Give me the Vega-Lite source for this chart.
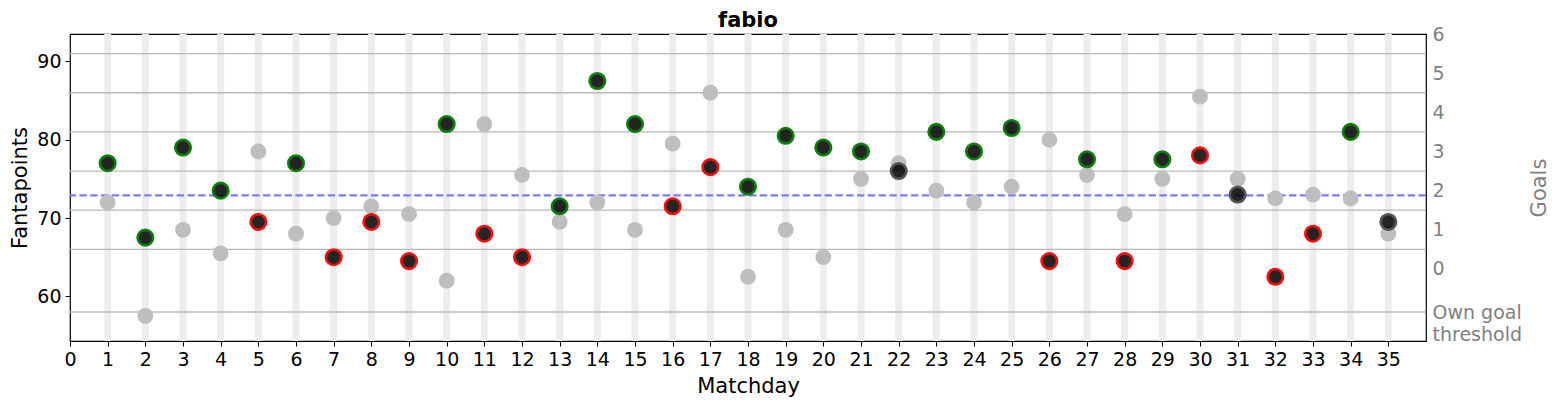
{
  "$schema": "https://vega.github.io/schema/vega-lite/v6.json",
  "width": 1356,
  "height": 307,
  "autosize": "none",
  "padding": {"left": 70, "top": 34, "right": 132, "bottom": 65},
  "background": "white",
  "config": {
    "font": "DejaVu Sans",
    "view": {"stroke": "black", "strokeWidth": 1.2},
    "axis": {"grid": false, "domain": false, "tickColor": "black", "tickSize": 5, "labelColor": "black", "labelFontSize": 19, "titleFontSize": 21, "titleFontWeight": "normal", "labelFont": "DejaVu Sans", "titleFont": "DejaVu Sans", "labelOverlap": false}
  },
  "title": {"text": "fabio", "fontSize": 21, "fontWeight": "bold", "font": "DejaVu Sans", "anchor": "middle", "offset": 6, "dy": 12},
  "datasets": {
    "games": [
      {"matchday": 1, "fantapoints": 77.0, "opponent": 72.0, "result": "W"},
      {"matchday": 2, "fantapoints": 67.5, "opponent": 57.5, "result": "W"},
      {"matchday": 3, "fantapoints": 79.0, "opponent": 68.5, "result": "W"},
      {"matchday": 4, "fantapoints": 73.5, "opponent": 65.5, "result": "W"},
      {"matchday": 5, "fantapoints": 69.5, "opponent": 78.5, "result": "L"},
      {"matchday": 6, "fantapoints": 77.0, "opponent": 68.0, "result": "W"},
      {"matchday": 7, "fantapoints": 65.0, "opponent": 70.0, "result": "L"},
      {"matchday": 8, "fantapoints": 69.5, "opponent": 71.5, "result": "L"},
      {"matchday": 9, "fantapoints": 64.5, "opponent": 70.5, "result": "L"},
      {"matchday": 10, "fantapoints": 82.0, "opponent": 62.0, "result": "W"},
      {"matchday": 11, "fantapoints": 68.0, "opponent": 82.0, "result": "L"},
      {"matchday": 12, "fantapoints": 65.0, "opponent": 75.5, "result": "L"},
      {"matchday": 13, "fantapoints": 71.5, "opponent": 69.5, "result": "W"},
      {"matchday": 14, "fantapoints": 87.5, "opponent": 72.0, "result": "W"},
      {"matchday": 15, "fantapoints": 82.0, "opponent": 68.5, "result": "W"},
      {"matchday": 16, "fantapoints": 71.5, "opponent": 79.5, "result": "L"},
      {"matchday": 17, "fantapoints": 76.5, "opponent": 86.0, "result": "L"},
      {"matchday": 18, "fantapoints": 74.0, "opponent": 62.5, "result": "W"},
      {"matchday": 19, "fantapoints": 80.5, "opponent": 68.5, "result": "W"},
      {"matchday": 20, "fantapoints": 79.0, "opponent": 65.0, "result": "W"},
      {"matchday": 21, "fantapoints": 78.5, "opponent": 75.0, "result": "W"},
      {"matchday": 22, "fantapoints": 76.0, "opponent": 77.0, "result": "D"},
      {"matchday": 23, "fantapoints": 81.0, "opponent": 73.5, "result": "W"},
      {"matchday": 24, "fantapoints": 78.5, "opponent": 72.0, "result": "W"},
      {"matchday": 25, "fantapoints": 81.5, "opponent": 74.0, "result": "W"},
      {"matchday": 26, "fantapoints": 64.5, "opponent": 80.0, "result": "L"},
      {"matchday": 27, "fantapoints": 77.5, "opponent": 75.5, "result": "W"},
      {"matchday": 28, "fantapoints": 64.5, "opponent": 70.5, "result": "L"},
      {"matchday": 29, "fantapoints": 77.5, "opponent": 75.0, "result": "W"},
      {"matchday": 30, "fantapoints": 78.0, "opponent": 85.5, "result": "L"},
      {"matchday": 31, "fantapoints": 73.0, "opponent": 75.0, "result": "D"},
      {"matchday": 32, "fantapoints": 62.5, "opponent": 72.5, "result": "L"},
      {"matchday": 33, "fantapoints": 68.0, "opponent": 73.0, "result": "L"},
      {"matchday": 34, "fantapoints": 81.0, "opponent": 72.5, "result": "W"},
      {"matchday": 35, "fantapoints": 69.5, "opponent": 68.0, "result": "D"}
    ],
    "thresholds": [
      {"threshold": 58}, {"threshold": 66}, {"threshold": 71}, {"threshold": 76},
      {"threshold": 81}, {"threshold": 86}, {"threshold": 91}
    ],
    "reference": [{"average": 72.9}]
  },
  "resolve": {"axis": {"y": "independent"}},
  "layer": [
    {
      "data": {"name": "games"},
      "mark": {"type": "rule", "color": "#ededed", "strokeWidth": 7},
      "encoding": {
        "x": {"field": "matchday", "type": "quantitative", "scale": {"domain": [0, 36], "nice": false, "zero": false},
          "axis": {"values": [0,1,2,3,4,5,6,7,8,9,10,11,12,13,14,15,16,17,18,19,20,21,22,23,24,25,26,27,28,29,30,31,32,33,34,35], "title": "Matchday", "labelFlush": false, "labelOverlap": false, "labelSeparation": 0, "labelPadding": 4, "titlePadding": 6}}
      }
    },
    {
      "data": {"name": "thresholds"},
      "mark": {"type": "rule", "color": "#b8b8b8", "strokeWidth": 1.3},
      "encoding": {
        "y": {"field": "threshold", "type": "quantitative", "scale": {"domain": [54.3, 93.5], "nice": false, "zero": false},
          "axis": {"orient": "right", "values": [58, 63.5, 68.5, 73.5, 78.5, 83.5, 88.5, 93.5],
            "labelExpr": "datum.value == 58 ? ['Own goal', 'threshold'] : format((datum.value - 63.5) / 5, 'd')",
            "ticks": false, "labelColor": "gray", "labelFontSize": 19, "labelLineHeight": 22, "labelPadding": 6, "labelFlush": false, "labelBound": false, "labelOverlap": false,
            "title": "Goals", "titleColor": "gray", "titleFontSize": 21, "titleAngle": 270, "titlePadding": 28}}
      }
    },
    {
      "data": {"name": "reference"},
      "mark": {"type": "rule", "color": "#7b7bff", "strokeWidth": 2.2, "strokeDash": [7.4, 3.4]},
      "encoding": {
        "y": {"field": "average", "type": "quantitative", "scale": {"domain": [54.3, 93.5], "nice": false, "zero": false}, "axis": null}
      }
    },
    {
      "data": {"name": "games"},
      "mark": {"type": "circle", "color": "#bebebe", "opacity": 1, "size": 250},
      "encoding": {
        "x": {"field": "matchday", "type": "quantitative",
          "axis": {"values": [0,1,2,3,4,5,6,7,8,9,10,11,12,13,14,15,16,17,18,19,20,21,22,23,24,25,26,27,28,29,30,31,32,33,34,35], "title": "Matchday", "labelFlush": false, "labelOverlap": false, "labelSeparation": 0, "labelPadding": 4, "titlePadding": 6}},
        "y": {"field": "opponent", "type": "quantitative", "scale": {"domain": [54.3, 93.5], "nice": false, "zero": false},
          "axis": {"orient": "left", "values": [60, 70, 80, 90], "title": "Fantapoints", "titleColor": "black", "labelPadding": 4, "titlePadding": 6}}
      }
    },
    {
      "data": {"name": "games"},
      "mark": {"type": "point", "shape": "circle", "filled": false, "fill": "black", "fillOpacity": 0.85, "strokeWidth": 2.6, "strokeOpacity": 1, "size": 240},
      "encoding": {
        "x": {"field": "matchday", "type": "quantitative",
          "axis": {"values": [0,1,2,3,4,5,6,7,8,9,10,11,12,13,14,15,16,17,18,19,20,21,22,23,24,25,26,27,28,29,30,31,32,33,34,35], "title": "Matchday", "labelFlush": false, "labelOverlap": false, "labelSeparation": 0, "labelPadding": 4, "titlePadding": 6}},
        "y": {"field": "fantapoints", "type": "quantitative", "scale": {"domain": [54.3, 93.5], "nice": false, "zero": false}, "axis": null},
        "stroke": {"field": "result", "type": "nominal", "scale": {"domain": ["W", "L", "D"], "range": ["#0a800a", "#ff0a0a", "#555555"]}, "legend": null}
      }
    }
  ]
}
